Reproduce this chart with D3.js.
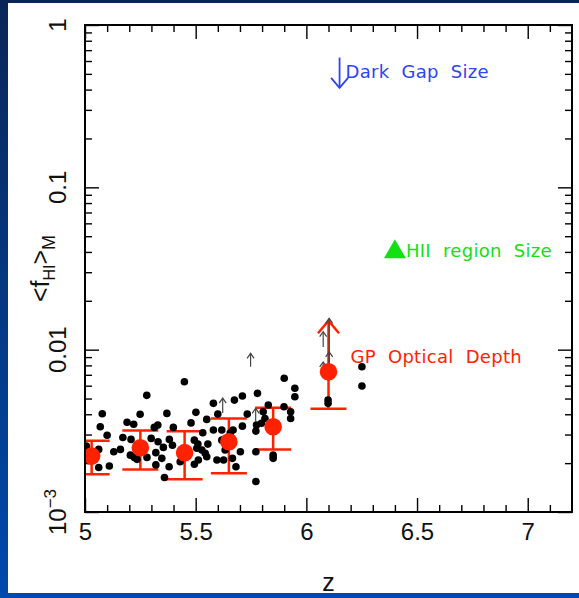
<!DOCTYPE html>
<html>
<head>
<meta charset="utf-8">
<script src="https://cdn.jsdelivr.net/npm/d3@7"></script>
<style>
  html, body { margin: 0; padding: 0; background: #fff; }
  svg { display: block; }
</style>
</head>
<body>
<svg id="chart" width="579" height="598"></svg>
<script>
// Individual sightline estimates of the mean neutral fraction
const dotZ = [5.006,5.062,5.062,5.069,5.078,5.100,5.110,5.130,5.160,5.171,
              5.190,5.205,5.208,5.220,5.223,5.235,5.249,5.279,5.280,5.299,
              5.313,5.320,5.320,5.329,5.330,5.347,5.354,5.359,5.370,5.380,
              5.381,5.395,5.399,5.430,5.449,5.479,5.494,5.494,5.501,5.510,
              5.512,5.528,5.532,5.543,5.550,5.555,5.580,5.580,5.596,5.600,
              5.618,5.626,5.633,5.666,5.675,5.669,5.682,5.702,5.711,5.711,
              5.733,5.772,5.775,5.779,5.772,5.772,5.797,5.805,5.813,5.828,
              5.850,5.850,5.899,5.900,5.929,5.929,5.948,5.948,6.098,6.098,
              6.251,6.251,5.505,5.550,5.618,5.656];
const dotF = [2.55,2.43,1.88,3.35,4.03,2.97,1.92,2.35,2.43,2.88,
              3.57,2.24,2.80,3.47,2.17,2.11,4.00,5.23,2.17,2.84,
              3.32,2.32,1.95,3.43,2.71,2.14,2.50,1.63,4.05,1.90,
              2.80,2.58,3.32,2.04,6.34,3.54,2.77,1.97,4.11,2.62,
              2.09,2.41,3.08,2.30,3.72,2.62,4.67,3.20,2.09,4.01,
              3.20,2.09,2.41,2.14,4.89,3.20,1.90,2.35,5.18,3.38,
              4.01,3.15,3.43,5.38,2.35,1.54,3.52,4.14,3.77,4.56,
              2.24,2.14,4.45,6.66,4.14,3.77,5.78,5.13,4.89,4.67,
              7.85,5.97,2.47,2.19,2.77,3.06].map(v => v * 1e-3);

// Lower limits on single sightlines (arrow from base value up to tip value)
const limZ    = [5.622, 5.771, 5.748, 6.076, 6.103, 6.103, 6.076];
const limFrom = [0.00407, 0.00360, 0.00785, 0.0104, 0.0073, 0.0073, 0.0073];
const limTo   = [0.00503, 0.00435, 0.00949, 0.0129, 0.0156, 0.0097, 0.0084];

// Binned Gunn-Peterson optical depth constraints
const gpZ     = [5.03, 5.25, 5.45, 5.65, 5.85, 6.10];
const gpF     = [0.00221, 0.00249, 0.00232, 0.00271, 0.00335, 0.00731];
const gpLo    = [0.00171, 0.00183, 0.00159, 0.00173, 0.00243, 0.00432];
const gpHi    = [0.00275, 0.00318, 0.00314, 0.00377, 0.00439, 0.0151];
const gpLimit = [false, false, false, false, false, true];

// Other constraints
const darkGap = { z: 6.15, from: 0.63, to: 0.41, label: "Dark Gap Size" };
const hiiRegion = { z: 6.40, f: 0.040, label: "HII region Size" };
const gpLabel = "GP Optical Depth";

// Axis ticks
const xMajor = [5, 5.5, 6, 6.5, 7];
const xTickLabels = ["5", "5.5", "6", "6.5", "7"];
const xMinor = [5.1,5.2,5.3,5.4,5.6,5.7,5.8,5.9,6.1,6.2,6.3,6.4,6.6,6.7,6.8,6.9,7.1];
const yMajor = [1e-3, 1e-2, 1e-1, 1];
const yTickLabels = [["10", "\u22123"], ["0.01"], ["0.1"], ["1"]];
const xTitle = "z";

(function draw() {
  const W = 579, H = 598;
  const xL = 85, xR = 572, yT = 25, yB = 512;
  const RED = "#ff2200", BLUE = "#2b45f2", GREEN = "#12e012";
  const SANS = "Liberation Sans, Arial, sans-serif";
  const NOTE = "DejaVu Sans, sans-serif";

  const svg = d3.select("#chart");

  // Background frame
  const defs = svg.append("defs");
  const grad = defs.append("linearGradient").attr("id", "bg")
    .attr("x1", 0).attr("y1", 0).attr("x2", 0).attr("y2", 1);
  grad.append("stop").attr("offset", 0).attr("stop-color", "#0a2657");
  grad.append("stop").attr("offset", 1).attr("stop-color", "#0049ad");
  svg.append("rect").attr("width", W).attr("height", H).attr("fill", "url(#bg)");
  svg.append("rect").attr("x", 8).attr("y", 3).attr("width", W - 8).attr("height", 590).attr("fill", "#fff");

  defs.append("clipPath").attr("id", "plotClip")
    .append("rect").attr("x", xL).attr("y", yT)
    .attr("width", xR - xL).attr("height", yB - yT);

  const x = d3.scaleLinear().domain([5, 7.2]).range([xL, xR]);
  const y = d3.scaleLog().domain([1e-3, 1]).range([yB, yT]);

  const yMinor = [];
  for (let e = -3; e < 0; e++) for (let k = 2; k <= 9; k++) yMinor.push(k * Math.pow(10, e));

  function styleAxis(g) {
    g.select(".domain").remove();
    g.selectAll(".tick line").attr("stroke", "#000").attr("stroke-width", 1.4);
  }

  // Ticks on all four sides, pointing inward
  svg.append("g").attr("transform", `translate(0,${yB})`)
    .call(d3.axisBottom(x).tickValues(xMajor).tickSize(-14).tickPadding(11)
      .tickFormat((d, i) => xTickLabels[i]))
    .call(styleAxis)
    .call(g => g.selectAll("text").attr("font-family", SANS)
      .attr("font-size", 24).attr("fill", "#111"));
  svg.append("g").attr("transform", `translate(0,${yB})`)
    .call(d3.axisBottom(x).tickValues(xMinor).tickSize(-7).tickFormat(""))
    .call(styleAxis);
  svg.append("g").attr("transform", `translate(0,${yT})`)
    .call(d3.axisTop(x).tickValues(xMajor).tickSize(-14).tickFormat(""))
    .call(styleAxis);
  svg.append("g").attr("transform", `translate(0,${yT})`)
    .call(d3.axisTop(x).tickValues(xMinor).tickSize(-7).tickFormat(""))
    .call(styleAxis);
  svg.append("g").attr("transform", `translate(${xL},0)`)
    .call(d3.axisLeft(y).tickValues(yMajor).tickSize(-14).tickFormat(""))
    .call(styleAxis);
  svg.append("g").attr("transform", `translate(${xL},0)`)
    .call(d3.axisLeft(y).tickValues(yMinor).tickSize(-7).tickFormat(""))
    .call(styleAxis);
  svg.append("g").attr("transform", `translate(${xR},0)`)
    .call(d3.axisRight(y).tickValues(yMajor).tickSize(-14).tickFormat(""))
    .call(styleAxis);
  svg.append("g").attr("transform", `translate(${xR},0)`)
    .call(d3.axisRight(y).tickValues(yMinor).tickSize(-7).tickFormat(""))
    .call(styleAxis);

  // Rotated y tick labels
  yMajor.forEach((v, i) => {
    const parts = yTickLabels[i];
    const t = svg.append("text")
      .attr("transform", `translate(66,${y(v)}) rotate(-90)`)
      .attr("text-anchor", "middle")
      .attr("font-family", SANS)
      .attr("font-size", 24).attr("fill", "#111");
    t.append("tspan").text(parts[0]);
    if (parts[1]) t.append("tspan").attr("font-size", 17).attr("dy", -10).text(parts[1]);
  });

  // Axis titles
  svg.append("text").attr("x", (xL + xR) / 2).attr("y", 591)
    .attr("text-anchor", "middle")
    .attr("font-family", SANS)
    .attr("font-size", 25).attr("fill", "#111").text(xTitle);

  const yt = svg.append("text")
    .attr("transform", `translate(49,${(yT + yB) / 2}) rotate(-90)`)
    .attr("text-anchor", "middle")
    .attr("font-family", SANS)
    .attr("font-size", 25).attr("fill", "#111");
  yt.append("tspan").text("<f");
  yt.append("tspan").attr("font-size", 16).attr("dy", 6).text("HI");
  yt.append("tspan").attr("dy", -6).text(">");
  yt.append("tspan").attr("font-size", 18).attr("dy", 6).text("M");

  // Plot content
  const plot = svg.append("g").attr("clip-path", "url(#plotClip)");

  // Error bars of the binned constraints
  const capHalf = 18;
  gpZ.forEach((z, i) => {
    const cx = x(z);
    const g = plot.append("g").attr("stroke", RED).attr("stroke-width", 2.5).attr("fill", "none");
    g.append("line").attr("x1", cx).attr("x2", cx).attr("y1", y(gpLo[i])).attr("y2", y(gpHi[i]));
    g.append("line").attr("x1", cx - capHalf).attr("x2", cx + capHalf)
      .attr("y1", y(gpLo[i])).attr("y2", y(gpLo[i]));
    if (gpLimit[i]) {
      const ty = y(gpHi[i]);
      g.append("polyline").attr("points", `${cx - 10.5},${ty + 12.6} ${cx},${ty} ${cx + 10.5},${ty + 12.6}`);
    } else {
      g.append("line").attr("x1", cx - capHalf).attr("x2", cx + capHalf)
        .attr("y1", y(gpHi[i])).attr("y2", y(gpHi[i]));
    }
  });

  // Sightline points
  plot.append("g").selectAll("circle").data(dotZ).join("circle")
    .attr("cx", d => x(d)).attr("cy", (d, i) => y(dotF[i])).attr("r", 3.8)
    .attr("fill", "#000");

  // Lower-limit arrows
  const lim = plot.append("g").attr("stroke", "#444").attr("stroke-width", 1.2).attr("fill", "none");
  limZ.forEach((z, i) => {
    const cx = x(z), y0 = y(limFrom[i]), y1 = y(limTo[i]);
    lim.append("line").attr("x1", cx).attr("x2", cx).attr("y1", y0).attr("y2", y1);
    lim.append("polyline").attr("points", `${cx - 3.5},${y1 + 5} ${cx},${y1} ${cx + 3.5},${y1 + 5}`);
  });

  // Binned points
  plot.append("g").selectAll("circle").data(gpZ).join("circle")
    .attr("cx", d => x(d)).attr("cy", (d, i) => y(gpF[i])).attr("r", 8.8)
    .attr("fill", RED);

  // Dark gap upper limit
  {
    const cx = x(darkGap.z), y0 = y(darkGap.from), y1 = y(darkGap.to);
    const g = plot.append("g").attr("stroke", BLUE).attr("stroke-width", 1.8).attr("fill", "none");
    g.append("line").attr("x1", cx).attr("x2", cx).attr("y1", y0).attr("y2", y1);
    g.append("polyline").attr("points", `${cx - 8.5},${y1 - 10} ${cx},${y1} ${cx + 8.5},${y1 - 10}`);
    plot.append("text").attr("x", cx + 6).attr("y", y0 + 20.4)
      .attr("font-family", NOTE).attr("font-size", 18)
      .attr("word-spacing", 6).attr("letter-spacing", 0.3).attr("fill", BLUE).text(darkGap.label);
  }

  // HII region size constraint
  {
    const cx = x(hiiRegion.z), cy = y(hiiRegion.f);
    plot.append("path").attr("transform", `translate(${cx},${cy})`)
      .attr("d", d3.symbol(d3.symbolTriangle, 210)()).attr("fill", GREEN);
    plot.append("text").attr("x", cx + 11).attr("y", cy + 5)
      .attr("font-family", NOTE).attr("font-size", 18)
      .attr("word-spacing", 6).attr("letter-spacing", 0.3).attr("fill", GREEN).text(hiiRegion.label);
  }

  // GP label next to the highest-redshift bin
  {
    const i = gpZ.length - 1;
    plot.append("text").attr("x", x(gpZ[i]) + 22).attr("y", y(gpF[i]) - 8.4)
      .attr("font-family", NOTE).attr("font-size", 18)
      .attr("word-spacing", 6).attr("letter-spacing", 0.3).attr("fill", RED).text(gpLabel);
  }

  // Plot frame
  svg.append("rect").attr("x", xL).attr("y", yT)
    .attr("width", xR - xL).attr("height", yB - yT)
    .attr("fill", "none").attr("stroke", "#000").attr("stroke-width", 2);
})();
</script>
</body>
</html>
